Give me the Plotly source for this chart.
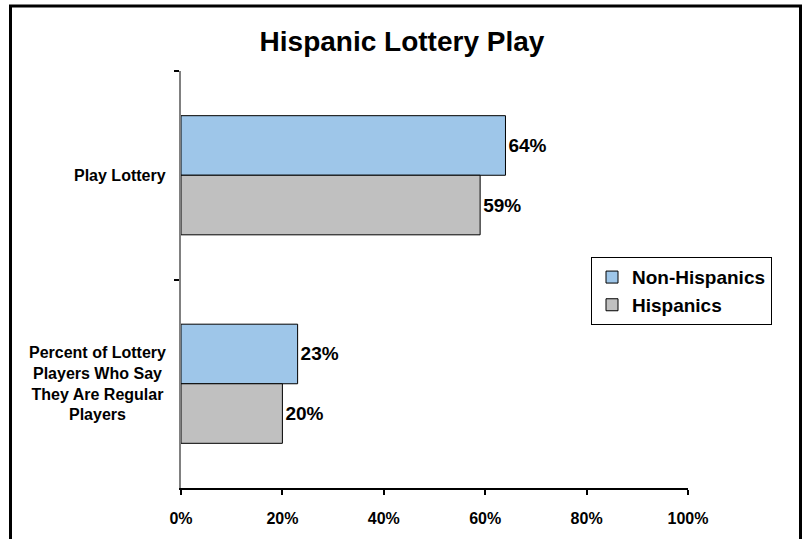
import plotly.graph_objects as go

categories = ["Play Lottery", "Percent of Lottery<br>Players Who Say<br>They Are Regular<br>Players"]
series_names = ["Non-Hispanics", "Hispanics"]
non_hispanics = [0.64, 0.23]
hispanics = [0.59, 0.20]
series_values = [non_hispanics, hispanics]
series_colors = ["#9EC6E9", "#C0C0C0"]
x_ticks = [0, 0.2, 0.4, 0.6, 0.8, 1.0]
x_tick_labels = ["0%", "20%", "40%", "60%", "80%", "100%"]
title_text = "Hispanic Lottery Play"

FONT = "Liberation Sans, Arial, sans-serif"

W, H = 806, 539
L, R, T, B = 181, 688, 71, 492
pw, ph = R - L, B - T

fig = go.Figure()
for name, vals, col in zip(series_names, series_values, series_colors):
    fig.add_trace(go.Bar(
        y=categories, x=vals, name=name, orientation="h",
        marker=dict(color=col, line=dict(color="black", width=1)),
        text=[f"{round(v*100)}%" for v in vals],
        textposition="outside",
        textfont=dict(family=FONT, size=19, color="black", weight="bold"),
        cliponaxis=False,
    ))

# category labels as centered multi-line annotations
for c in categories:
    fig.add_annotation(
        x=0, xref="paper", y=c, yref="y", xanchor="right", yanchor="middle",
        xshift=-13, text=c, showarrow=False, align="center",
        font=dict(family=FONT, size=16, color="black", weight="bold"),
    )


def px_x(x):
    return (x - L) / pw


def px_y(y):
    return (B - y) / ph


# outer border
fig.add_shape(type="rect", xref="paper", yref="paper", layer="above",
              x0=px_x(10.5), x1=px_x(800.5), y0=px_y(548), y1=px_y(5.5),
              line=dict(color="black", width=3), fillcolor="rgba(0,0,0,0)")

fig.update_layout(
    width=W, height=H,
    margin=dict(l=L, r=W - R, t=T, b=H - B, pad=0),
    paper_bgcolor="white", plot_bgcolor="white",
    barmode="group", bargap=0.4286, bargroupgap=0,
    font=dict(family=FONT, color="black"),
    title=dict(text=title_text, x=402 / W, xref="container", xanchor="center",
               y=1 - 41 / H, yref="container", yanchor="middle",
               font=dict(family=FONT, size=28, color="black", weight="bold")),
    legend=dict(x=px_x(591), y=px_y(259), xanchor="left", yanchor="top",
                bordercolor="black", borderwidth=1, bgcolor="white",
                font=dict(family=FONT, size=19, color="black", weight="bold"),
                itemwidth=30, tracegroupgap=0),
    showlegend=True,
)
fig.update_xaxes(range=[0, 1], tickvals=x_ticks, ticktext=x_tick_labels,
                 showgrid=False, zeroline=False, showline=True, linecolor="black",
                 linewidth=1.5, ticks="outside", ticklen=5, tickcolor="black", tickwidth=1.5,
                 ticklabelstandoff=10,
                 tickfont=dict(family=FONT, size=16, color="black", weight="bold"))
fig.update_yaxes(autorange="reversed", showgrid=False, zeroline=False,
                 showline=True, linecolor="#808080", linewidth=1.5,
                 ticks="outside", ticklen=5, tickcolor="black", tickwidth=1.5,
                 tickson="boundaries", showticklabels=False)

fig.write_html("out.html", config={"displayModeBar": False},
               post_script="document.body.style.margin='0';document.body.style.overflow='hidden';")
